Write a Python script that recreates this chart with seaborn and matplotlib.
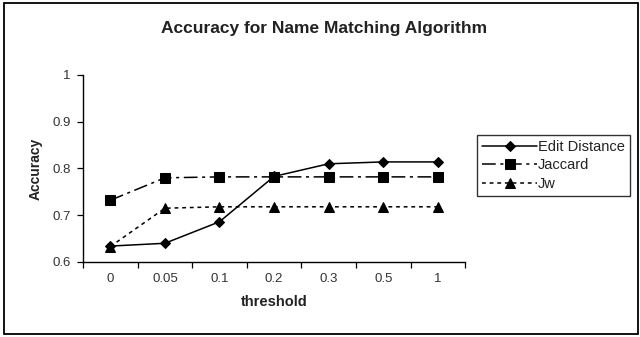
import matplotlib
matplotlib.use("Agg")
import matplotlib.pyplot as plt
import seaborn as sns
import pandas as pd
from matplotlib.patches import Rectangle
from matplotlib.ticker import FixedLocator

thresholds = ["0", "0.05", "0.1", "0.2", "0.3", "0.5", "1"]
edit_distance = [0.634, 0.640, 0.686, 0.783, 0.810, 0.814, 0.814]
jaccard = [0.732, 0.780, 0.782, 0.782, 0.782, 0.782, 0.782]
jw = [0.633, 0.715, 0.718, 0.718, 0.718, 0.718, 0.718]
series_names = ["Edit Distance", "Jaccard", "Jw"]
y_ticks = [0.6, 0.7, 0.8, 0.9, 1.0]
y_tick_labels = ["0.6", "0.7", "0.8", "0.9", "1"]

sns.set_style("white")
plt.rcParams["font.family"] = ["Liberation Sans", "DejaVu Sans"]

fig = plt.figure(figsize=(6.4, 3.37), dpi=100)
ax = fig.add_axes([0.1297, 0.2226, 0.597, 0.555])

styles = [
    dict(marker="D", markersize=5.5, linestyle="-"),
    dict(marker="s", markersize=7, linestyle=(0, (9, 3, 2, 3))),
    dict(marker="^", markersize=7.5, linestyle=(0, (2.5, 2.5))),
]
data = [edit_distance, jaccard, jw]
for name, vals, st in zip(series_names, data, styles):
    df = pd.DataFrame({"threshold": thresholds, "Accuracy": vals})
    sns.lineplot(data=df, x="threshold", y="Accuracy", ax=ax, color="black",
                 linewidth=1.1, label=name, sort=False,
                 markeredgecolor="black", markerfacecolor="black", **st)

ax.set_xlim(-0.5, len(thresholds) - 0.5)
ax.set_ylim(0.6, 1.0)
ax.set_yticks(y_ticks)
ax.set_yticklabels(y_tick_labels)
ax.set_xticks(range(len(thresholds)))
ax.set_xticklabels(thresholds)
ax.xaxis.set_minor_locator(FixedLocator([i - 0.5 for i in range(len(thresholds) + 1)]))
ax.tick_params(axis="x", which="major", length=0, pad=8, labelsize=9.5, colors="#333333")
ax.tick_params(axis="x", which="minor", length=4, width=0.9, color="black", direction="out", bottom=True)
ax.tick_params(axis="y", which="major", length=4, width=0.9, color="black", direction="out", left=True,
               pad=5, labelsize=9.5, labelcolor="#333333")

for s in ["top", "right"]:
    ax.spines[s].set_visible(False)
for s in ["left", "bottom"]:
    ax.spines[s].set_color("black")
    ax.spines[s].set_linewidth(1.0)

ax.set_xlabel("threshold", fontsize=10.5, fontweight="bold", labelpad=7, color="#222222")
ax.set_ylabel("Accuracy", fontsize=10, fontweight="bold", labelpad=7, color="#222222")

fig.text(0.507, 0.915, "Accuracy for Name Matching Algorithm", ha="center", va="center",
         fontsize=12.5, fontweight="bold", color="#222222")

leg = ax.legend(loc="upper left", bbox_to_anchor=(1.031, 0.68), frameon=True, fancybox=False,
                fontsize=10.5, handlelength=3.8, handletextpad=0.05, borderpad=0.35,
                labelspacing=0.3, borderaxespad=0)
leg.get_frame().set_edgecolor("black")
leg.get_frame().set_linewidth(1.0)
for t in leg.get_texts():
    t.set_color("#222222")

fig.patches.append(Rectangle((0.006, 0.009), 0.991, 0.982, transform=fig.transFigure,
                             fill=False, edgecolor="black", linewidth=1.3))

fig.savefig("out.png", dpi=100)
